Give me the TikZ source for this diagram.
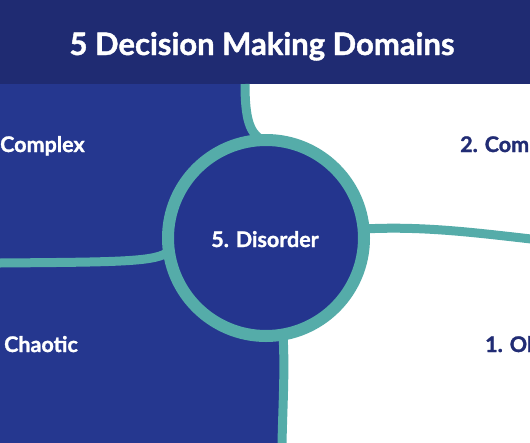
\documentclass[tikz,border=0pt]{standalone}
\usepackage{fontspec}
\setmainfont{Lato}
\newfontfamily\heavyfont{Lato}[BoldFeatures={FakeBold=1.3}]
\usetikzlibrary{backgrounds,calc}
\definecolor{navy}{HTML}{1F2B72}
\definecolor{regionblue}{HTML}{25378F}
\definecolor{circblue}{HTML}{24358E}
\definecolor{teal}{HTML}{55ACA9}
\definecolor{darktext}{HTML}{212C74}
\tikzset{
  px/.style={x=1pt,y=-1pt},
  connector/.style={draw=teal,line width=9pt,line cap=butt},
  labelfont/.style={font=\heavyfont\bfseries\fontsize{21.5}{25}\selectfont},
  whitelabel/.style={labelfont,text=white,inner sep=0pt,anchor=base west},
  darklabel/.style={labelfont,text=darktext,inner sep=0pt,anchor=base west},
  ringnode/.style={circle,draw=teal,line width=12pt,fill=circblue,minimum size=196pt,inner sep=0pt}
}
\begin{document}
\begin{tikzpicture}[px]
\useasboundingbox (0,0) rectangle (530,442);
% circle node (main layer)
\node[ringnode] (disorder) at (266,238) {};
\node[labelfont,text=white,inner sep=0pt,anchor=base] (disordertext) at (265,247) {5. Disorder};
% free ends of connectors
\coordinate (ttop) at (245,84);
\coordinate (tleft) at (0,263);
\coordinate (tright) at (531,239);
\coordinate (tbottom) at (282,443);
\begin{scope}[on background layer]
  \fill[white] (0,0) rectangle (530,442);
  \fill[regionblue] (0,83) -- (ttop) .. controls (245,120) and (252,132) .. ($(disorder.center)+(0,-98)$) -- (disorder.center)
     -- ($(disorder.center)+(17,96)$) .. controls (285,370) and (283,400) .. (tbottom) -- (0,443) -- cycle;
  \fill[navy] (0,0) rectangle (530,84);
  \node[text=white,font=\heavyfont\bfseries\fontsize{31}{36}\selectfont,inner sep=0pt,anchor=base] (title) at (262,55) {5 Decision Making Domains};
  % connectors
  \draw[connector] (ttop) .. controls (245,120) and (250,133) .. ($(disorder.center)+(-4,-98)$) -- (disorder.center);
  \draw[connector] (tleft) .. controls (120,262) and (158,262) .. ($(disorder.center)+(-97,13)$) -- (disorder.center);
  \draw[connector] (disorder.center) -- ($(disorder.center)+(97,-9)$) .. controls (420,226) and (470,232) .. (tright);
  \draw[connector] (disorder.center) -- ($(disorder.center)+(17,96)$) .. controls (285,370) and (283,400) .. (tbottom);
  % labels
  \node[whitelabel] (complex) at (0,152) {Complex};
  \node[whitelabel] (chaotic) at (4,352) {Chaotic};
  \node[darklabel] (complicated) at (460,152) {2. Com};
  \node[darklabel] (obvious) at (485,352) {1. Ob};
\end{scope}
\end{tikzpicture}
\end{document}
